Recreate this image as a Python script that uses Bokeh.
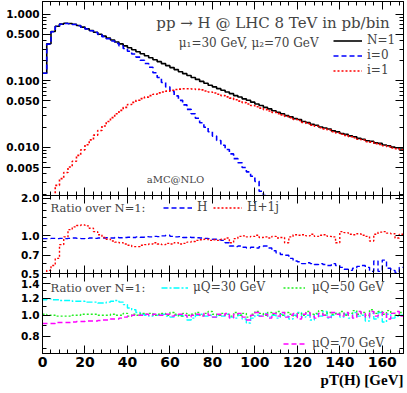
from bokeh.plotting import figure
from bokeh.models import (Range1d, FixedTicker, PrintfTickFormatter, LinearAxis, LogAxis,
                          Label, Legend, LegendItem, Title)
from bokeh.layouts import column
from bokeh.embed import file_html
from bokeh.resources import INLINE

# ---------------- data (2 GeV bins from 0 to 170 GeV) ----------------
bin_edges = list(range(0, 172, 2))

n1_total = [0.13, 0.36, 0.55, 0.66, 0.71, 0.73, 0.725, 0.705, 0.675, 0.64, 0.605, 0.57, 0.535, 0.50,
            0.468, 0.438, 0.41, 0.383, 0.358, 0.335, 0.313, 0.292, 0.273, 0.255, 0.238, 0.222, 0.207, 0.194,
            0.181, 0.169, 0.158, 0.147, 0.137, 0.128, 0.120, 0.112, 0.105, 0.098, 0.092, 0.086, 0.081, 0.0763,
            0.0722, 0.0678, 0.0642, 0.0600, 0.0572, 0.0536, 0.0510, 0.0478, 0.0448, 0.0425, 0.0399, 0.0379,
            0.0356, 0.0337, 0.0321, 0.0300, 0.0288, 0.0271, 0.0262, 0.0245, 0.0236, 0.0222, 0.0215, 0.0203,
            0.0196, 0.0189, 0.0177, 0.0171, 0.0162, 0.0157, 0.0149, 0.0145, 0.0137, 0.0133, 0.0126, 0.0124,
            0.0117, 0.0115, 0.0109, 0.0106, 0.0101, 0.0099, 0.0095]

i0_part = [0.13, 0.355, 0.545, 0.655, 0.705, 0.725, 0.72, 0.70, 0.67, 0.635, 0.60, 0.565, 0.53, 0.495,
           0.46, 0.428, 0.396, 0.365, 0.335, 0.306, 0.278, 0.252, 0.227, 0.204, 0.182, 0.160, 0.132, 0.112,
           0.0945, 0.081, 0.0693, 0.0594, 0.0509, 0.0436, 0.0373, 0.032, 0.0274, 0.0235, 0.0201, 0.0172,
           0.0148, 0.0127, 0.0108, 0.0093, 0.0080, 0.0068, 0.0059, 0.0050, 0.0043, 0.0037, 0.0031, 0.0022,
           0.0019, 0.0017, 0.0004, 0.0004, 0.0004, 0.0004, 0.0004, 0.0004, 0.0004, 0.0004, 0.0004, 0.0004,
           0.0004, 0.0004, 0.0004, 0.0004, 0.0004, 0.0004, 0.0004, 0.0004, 0.0004, 0.0004, 0.0004, 0.0004,
           0.0004, 0.0004, 0.0004, 0.0004, 0.0004, 0.0004, 0.0004, 0.0004, 0.0004]

i1_part = [0.0004, 0.0004, 0.0016, 0.0027, 0.0034, 0.0042, 0.0051, 0.0062, 0.0076, 0.0092, 0.011, 0.013,
           0.0153, 0.018, 0.021, 0.0245, 0.028, 0.032, 0.036, 0.040, 0.044, 0.0475, 0.051, 0.054, 0.057,
           0.060, 0.063, 0.066, 0.068, 0.070, 0.072, 0.074, 0.075, 0.076, 0.076, 0.0755, 0.0745, 0.073,
           0.0705, 0.068, 0.0655, 0.063, 0.060, 0.0575, 0.055, 0.052, 0.0495, 0.047, 0.0448, 0.0425, 0.0408,
           0.0389, 0.0370, 0.0353, 0.0336, 0.0322, 0.0308, 0.0292, 0.0280, 0.0263, 0.0254, 0.0238, 0.0229,
           0.0216, 0.0208, 0.0197, 0.0190, 0.0183, 0.0172, 0.0165, 0.0158, 0.0152, 0.0145, 0.0140, 0.0133,
           0.0129, 0.0122, 0.0120, 0.0114, 0.0111, 0.0106, 0.0103, 0.0098, 0.0096, 0.0092]

ratio_h = [0.95, 0.95, 0.955, 0.95, 0.955, 0.95, 0.955, 0.96, 0.955, 0.95, 0.955, 0.96, 0.955, 0.96,
           0.96, 0.965, 0.96, 0.97, 0.965, 0.97, 0.975, 0.97, 0.98, 0.975, 0.985, 0.98, 0.99, 0.985,
           1.0, 1.01, 0.99, 0.98, 0.985, 0.97, 0.975, 0.97, 0.965, 0.96, 0.955, 0.95, 0.94, 0.93,
           0.92, 0.88, 0.83, 0.82, 0.83, 0.81, 0.80, 0.81, 0.80, 0.82, 0.83, 0.80, 0.76, 0.73,
           0.71, 0.70, 0.66, 0.63, 0.62, 0.60, 0.61, 0.60, 0.59, 0.60, 0.59, 0.58, 0.60, 0.58,
           0.56, 0.54, 0.53, 0.55, 0.57, 0.58, 0.56, 0.52, 0.63, 0.52, 0.64, 0.55, 0.53, 0.51, 0.56]

ratio_h1j = [0.48, 0.53, 0.58, 0.66, 0.85, 0.98, 1.12, 1.18, 1.21, 1.22, 1.20, 1.15, 1.08, 1.02,
             0.97, 0.94, 0.91, 0.89, 0.88, 0.86, 0.84, 0.82, 0.82, 0.84, 0.85, 0.86, 0.88, 0.86,
             0.85, 0.87, 0.86, 0.88, 0.86, 0.87, 0.89, 0.90, 0.92, 0.93, 0.94, 0.92, 0.93, 0.92,
             0.94, 0.96, 0.88, 0.95, 0.99, 1.00, 0.98, 0.99, 1.01, 0.97, 0.98, 0.96, 0.99, 0.96,
             0.97, 0.88, 0.98, 1.02, 1.01, 1.02, 1.00, 1.03, 0.99, 1.01, 1.02, 0.99, 0.98, 0.88,
             1.08, 1.06, 1.03, 1.02, 1.04, 1.01, 0.99, 0.91, 1.03, 1.07, 1.08, 1.05, 1.04, 0.96, 1.03]

ratio_mu30 = [1.18, 1.19, 1.18, 1.18, 1.17, 1.17, 1.17, 1.16, 1.16, 1.16, 1.15, 1.15, 1.15, 1.14,
              1.14, 1.15, 1.16, 1.17, 1.15, 1.12, 1.08, 1.06, 1.03, 1.01, 1.00, 0.99, 1.01, 1.00,
              1.01, 0.99, 0.98, 1.00, 1.00, 0.99, 0.95, 0.97, 1.00, 1.01, 0.99, 1.00, 0.98, 1.00,
              0.99, 1.01, 0.98, 0.97, 1.00, 0.96, 0.92, 0.97, 1.00, 0.99, 1.02, 0.98, 1.00, 0.97,
              1.01, 0.99, 0.96, 1.00, 1.03, 0.98, 1.00, 0.95, 1.01, 0.99, 1.04, 0.97, 1.00, 1.02,
              0.98, 1.01, 0.97, 1.03, 0.99, 1.00, 0.94, 1.02, 0.96, 1.03, 0.93, 1.01, 0.97, 0.99, 1.00]

ratio_mu50 = [1.01, 1.00, 1.00, 0.99, 0.99, 0.99, 0.99, 1.00, 1.00, 1.01, 1.01, 1.01, 1.01, 1.00,
              1.00, 1.00, 1.01, 1.00, 1.00, 1.02, 0.99, 1.01, 1.00, 1.02, 1.01, 1.02, 1.00, 1.01,
              1.02, 1.00, 1.03, 1.01, 0.99, 1.02, 1.00, 1.01, 1.03, 1.00, 1.02, 1.04, 1.01, 1.00,
              1.02, 1.01, 0.99, 1.03, 1.00, 1.02, 0.98, 1.01, 1.04, 1.02, 1.00, 1.03, 1.01, 1.04,
              1.00, 1.03, 1.01, 0.99, 1.02, 1.00, 1.04, 1.01, 1.02, 1.05, 1.00, 1.03, 1.01, 1.02,
              1.04, 1.00, 1.02, 1.05, 1.01, 1.03, 1.00, 1.06, 1.02, 1.04, 1.01, 1.05, 1.02, 1.00, 1.03]

ratio_mu70 = [0.915, 0.915, 0.915, 0.925, 0.925, 0.925, 0.925, 0.93, 0.935, 0.935, 0.94, 0.94, 0.94, 0.945,
              0.95, 0.95, 0.96, 0.96, 0.97, 0.98, 0.99, 1.00, 1.00, 1.00, 1.01, 1.00, 1.01, 1.00,
              1.00, 1.01, 0.99, 1.00, 1.01, 1.00, 0.98, 1.00, 1.01, 0.99, 1.02, 1.00, 0.98, 1.01,
              1.00, 1.02, 0.97, 1.01, 1.02, 0.98, 0.95, 1.00, 1.03, 0.99, 1.01, 0.97, 1.02, 0.99,
              1.03, 0.98, 1.00, 1.02, 0.96, 1.01, 1.03, 0.99, 0.97, 1.02, 1.00, 0.98, 1.03, 1.01,
              0.99, 1.03, 1.00, 0.97, 1.04, 1.02, 0.98, 1.04, 0.99, 1.00, 1.03, 0.96, 1.02, 1.04, 0.99]

x_ticks = [0, 20, 40, 60, 80, 100, 120, 140, 160]
x_minor = [4, 8, 12, 16, 24, 28, 32, 36, 44, 48, 52, 56, 64, 68, 72, 76, 84, 88, 92, 96,
           104, 108, 112, 116, 124, 128, 132, 136, 144, 148, 152, 156, 164, 168]
top_ticks = [0.005, 0.01, 0.05, 0.1, 0.5, 1.0]
top_minor = [0.002, 0.003, 0.004, 0.006, 0.007, 0.008, 0.009, 0.02, 0.03, 0.04, 0.06, 0.07,
             0.08, 0.09, 0.2, 0.3, 0.4, 0.6, 0.7, 0.8, 0.9]
mid_ticks = [0.5, 0.7, 1.0, 2.0]
mid_minor = [0.6, 0.8, 0.9, 1.2, 1.4, 1.6, 1.8]
bot_ticks = [0.8, 1.0, 1.2, 1.4]
bot_minor = [0.7, 0.9, 1.1, 1.3, 1.5]

SERIF = "DejaVu Serif"
FRAME_W = 361


def steps(vals):
    return bin_edges, list(vals) + [vals[-1]]


def setup_axis(ax, ticks, minor, labels=False, fmt=None, size="10.5px"):
    ax.ticker = FixedTicker(ticks=ticks, minor_ticks=minor)
    ax.major_tick_in = 8
    ax.major_tick_out = 0
    ax.minor_tick_in = 4
    ax.minor_tick_out = 0
    ax.axis_line_color = "black"
    ax.major_tick_line_color = "black"
    ax.minor_tick_line_color = "black"
    if labels:
        if fmt:
            ax.formatter = PrintfTickFormatter(format=fmt)
        ax.major_label_text_font = "DejaVu Sans"
        ax.major_label_text_font_style = "bold"
        ax.major_label_text_font_size = size
        ax.major_label_text_color = "black"
        ax.major_label_standoff = 3
    else:
        ax.major_label_text_font_size = "0px"
        ax.major_label_text_color = None
        ax.major_label_standoff = 0


def make_fig(y_range, frame_h, mb_top, mb_bottom, yt, ym, yfmt, show_x):
    p = figure(frame_width=FRAME_W, frame_height=frame_h, x_range=Range1d(0, 170), y_range=y_range,
               y_axis_type="log", output_backend="svg", toolbar_location=None,
               min_border_left=42, min_border_right=4, min_border_top=mb_top,
               min_border_bottom=mb_bottom)
    p.xgrid.visible = False
    p.ygrid.visible = False
    p.outline_line_color = "black"
    p.border_fill_color = None
    p.background_fill_color = "white"
    setup_axis(p.xaxis[0], x_ticks, x_minor, labels=show_x, fmt="%d", size="14px")
    setup_axis(p.yaxis[0], yt, ym, labels=True, fmt=yfmt)
    ra = LogAxis()
    setup_axis(ra, yt, ym)
    p.add_layout(ra, "right")
    ta = LinearAxis()
    setup_axis(ta, x_ticks, x_minor)
    p.add_layout(ta, "above")
    return p


def legend(items, loc, glyph_w=29, standoff=5):
    lg = Legend(items=items, location=loc, orientation="vertical",
                glyph_width=glyph_w, glyph_height=13, label_height=13, label_standoff=standoff,
                padding=0, margin=0, spacing=1, border_line_color=None,
                background_fill_alpha=0, label_text_font=SERIF, label_text_font_size="12px")
    return lg


# ---------------- top panel ----------------
p1 = make_fig(Range1d(0.0019, 1.55), 194, 1, 8, top_ticks, top_minor, "%.3f", False)
xs, ys = steps(n1_total)
r_n1 = p1.step(xs, ys, mode="after", line_color="black", line_width=1.6)
xs, ys = steps(i0_part)
r_i0 = p1.step(xs, ys, mode="after", line_color="#0000ff", line_width=1.6, line_dash="5 3")
xs, ys = steps(i1_part)
r_i1 = p1.step(xs, ys, mode="after", line_color="#ff0000", line_width=1.6, line_dash="2 2")

p1.add_layout(Label(x=163.5, y=0.75, text="pp → H @ LHC 8 TeV in pb/bin", text_align="right",
                    text_baseline="middle", text_font=SERIF, text_font_size="15px"))
p1.add_layout(Label(x=130, y=0.365, text="μ₁=30 GeV, μ₂=70 GeV", text_align="right",
                    text_baseline="middle", text_font=SERIF, text_font_size="12px"))
p1.add_layout(Label(x=62.6, y=0.0033, text="aMC@NLO", text_align="center",
                    text_baseline="middle", text_font=SERIF, text_font_size="10px",
                    text_color="#444444"))
p1.add_layout(legend([LegendItem(label="N=1", renderers=[r_n1]),
                      LegendItem(label="i=0", renderers=[r_i0]),
                      LegendItem(label="i=1", renderers=[r_i1])], (291, 118)))

# ---------------- middle panel ----------------
p2 = make_fig(Range1d(0.5, 2.1), 78, 8, 8, mid_ticks, mid_minor, "%.1f", False)
xs, ys = steps(ratio_h)
r_h = p2.step(xs, ys, mode="after", line_color="#0000ff", line_width=1.4, line_dash="5 3")
xs, ys = steps(ratio_h1j)
r_h1j = p2.step(xs, ys, mode="after", line_color="#ff0000", line_width=1.4, line_dash="2 2")
p2.add_layout(Label(x=3.8, y=1.68, text="Ratio over N=1:", text_align="left",
                    text_baseline="middle", text_font=SERIF, text_font_size="11.5px"))
p2.add_layout(legend([LegendItem(label="H", renderers=[r_h])], (121, 59)))
p2.add_layout(legend([LegendItem(label="H+1j", renderers=[r_h1j])], (171, 59)))
p2.margin = (-16, 0, 0, 0)

# ---------------- bottom panel ----------------
p3 = make_fig(Range1d(0.665, 1.56), 80, 8, 40, bot_ticks, bot_minor, "%.1f", True)
xs, ys = steps(ratio_mu30)
r_30 = p3.step(xs, ys, mode="after", line_color="#00ffff", line_width=1.4, line_dash="6 2 2 2")
xs, ys = steps(ratio_mu50)
r_50 = p3.step(xs, ys, mode="after", line_color="#22ee22", line_width=1.4, line_dash="2 2")
xs, ys = steps(ratio_mu70)
r_70 = p3.step(xs, ys, mode="after", line_color="#ff00ff", line_width=1.4, line_dash="5 3")
p3.add_layout(Label(x=3.8, y=1.34, text="Ratio over N=1:", text_align="left",
                    text_baseline="middle", text_font=SERIF, text_font_size="11.5px"))
p3.add_layout(legend([LegendItem(label="μQ=30 GeV", renderers=[r_30])], (119, 59), 27))
p3.add_layout(legend([LegendItem(label="μQ=50 GeV", renderers=[r_50])], (241, 59), 22, 7))
p3.add_layout(legend([LegendItem(label="μQ=70 GeV", renderers=[r_70])], (241, 3), 22, 7))
p3.add_layout(Title(text="pT(H) [GeV]", align="right", standoff=0, offset=0,
                    text_font="Liberation Serif", text_font_style="bold",
                    text_font_size="15px", text_color="black"), "below")
p3.margin = (-16, 0, 0, 0)

layout = column(p1, p2, p3, spacing=0)
open("out.html", "w").write(file_html(layout, INLINE))
